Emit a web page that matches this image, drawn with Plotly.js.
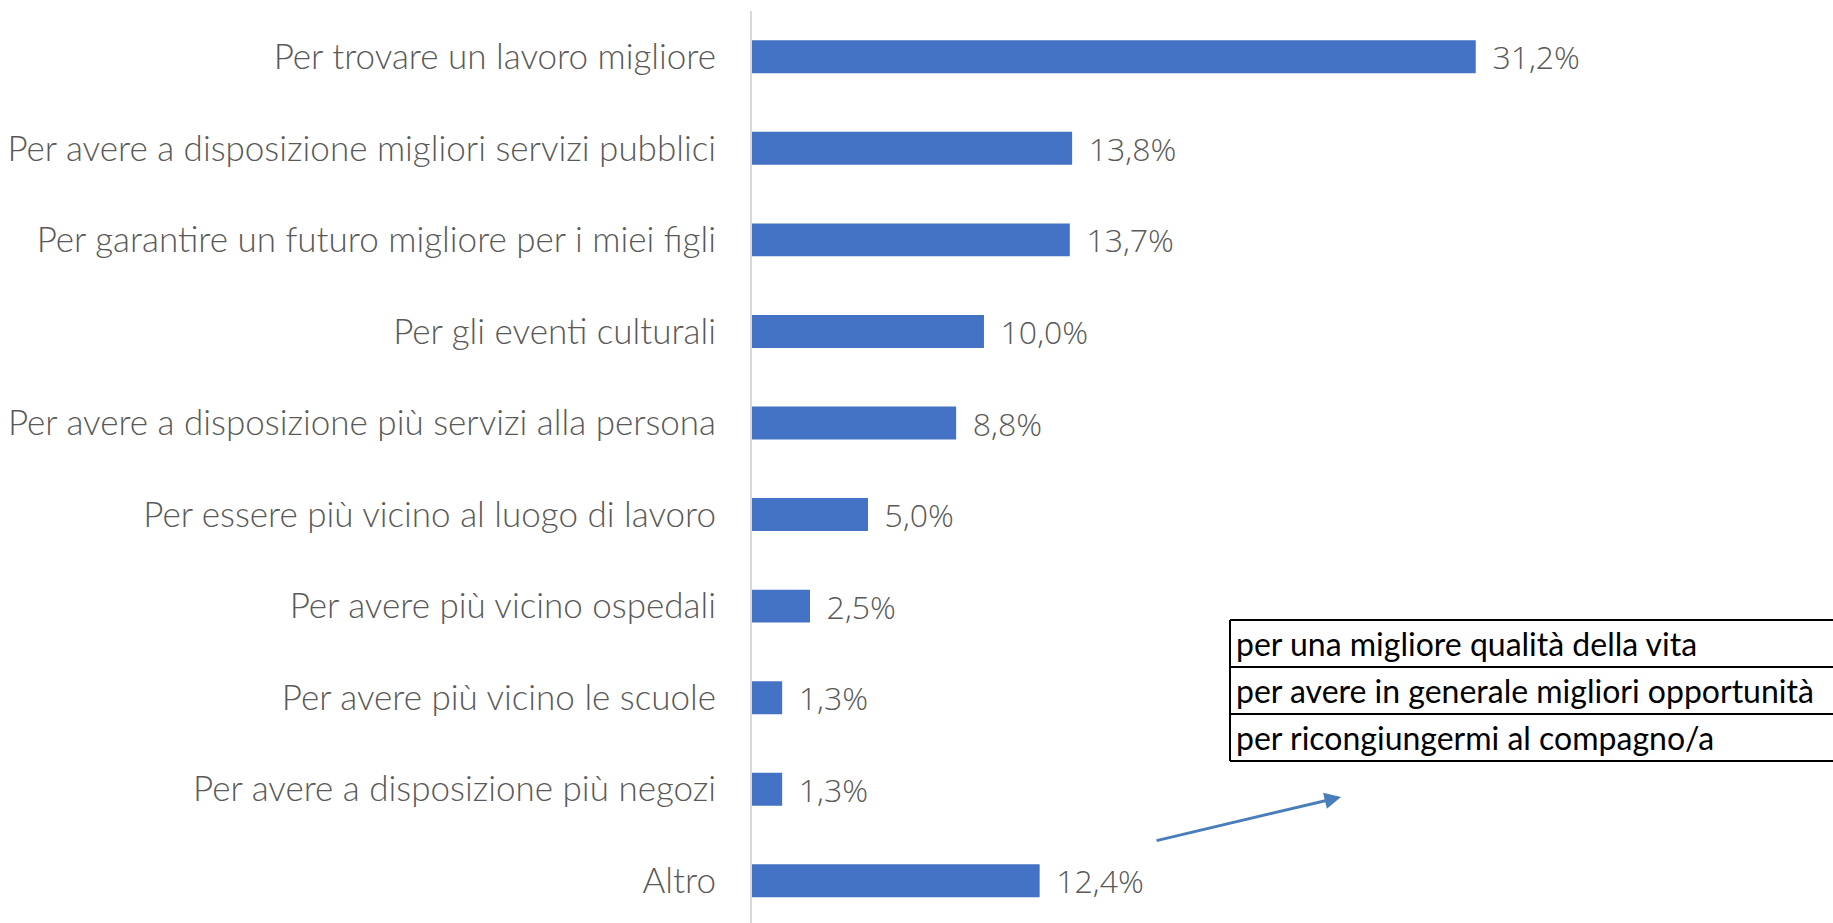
<!DOCTYPE html>
<html>
<head>
<meta charset="utf-8">
<script src="https://cdn.plot.ly/plotly-3.0.1.min.js"></script>
<style>html,body{margin:0;padding:0;background:#fff;}#chart{width:1833px;height:923px;}</style>
</head>
<body>
<div id="chart"></div>
<script>
const categories = [
  "Per trovare un lavoro migliore",
  "Per avere a disposizione migliori servizi pubblici",
  "Per garantire un futuro migliore per i miei figli",
  "Per gli eventi culturali",
  "Per avere a disposizione più servizi alla persona",
  "Per essere più vicino al luogo di lavoro",
  "Per avere più vicino ospedali",
  "Per avere più vicino le scuole",
  "Per avere a disposizione più negozi",
  "Altro"
];
const values = [31.2, 13.8, 13.7, 10.0, 8.8, 5.0, 2.5, 1.3, 1.3, 12.4];
const altroDetails = [
  "per una migliore qualità della vita",
  "per avere in generale migliori opportunità",
  "per ricongiungermi al compagno/a"
];

const labelFont = {family: "Lato, 'Open Sans', sans-serif", size: 35, color: "#595959", weight: 300};
const valueFont = {family: "'Open Sans', Lato, sans-serif", size: 32, color: "#595959", weight: 300};
const valueText = values.map(v => " \u2009" + v.toFixed(1).replace(".", ",") + "%");

const trace = {
  type: "bar",
  orientation: "h",
  x: values,
  y: categories,
  marker: {color: "#4472C4"},
  text: valueText,
  textposition: "outside",
  constraintext: "none",
  textfont: valueFont,
  cliponaxis: false,
  hoverinfo: "none",
  width: 0.36
};

// Table box (paper coords) and detail text
const rowLines = [0.3322, 0.2807, 0.2292, 0.1776];
const boxLeft = 0.4422;
const shapes = rowLines.map(yy => ({
  type: "line", xref: "paper", yref: "paper",
  x0: boxLeft, x1: 1.0, y0: yy, y1: yy,
  line: {color: "#000", width: 2}
}));
shapes.push({
  type: "line", xref: "paper", yref: "paper",
  x0: boxLeft, x1: boxLeft, y0: rowLines[0], y1: rowLines[3],
  line: {color: "#000", width: 2}
});

const annotations = altroDetails.map((t, i) => ({
  xref: "paper", yref: "paper",
  x: boxLeft + 0.004, y: (rowLines[i] + rowLines[i + 1]) / 2,
  xanchor: "left", yanchor: "middle",
  text: t, showarrow: false,
  font: {family: "Lato, 'Open Sans', sans-serif", size: 32, color: "#000"}
}));
annotations.push({
  xref: "paper", yref: "paper",
  x: 0.5449, y: 0.1382,
  ax: -186, ay: 44,
  text: "", showarrow: true,
  arrowhead: 2, arrowsize: 1.1, arrowwidth: 3,
  arrowcolor: "#4A7EBB"
});

const layout = {
  width: 1833, height: 923,
  margin: {l: 752, r: 0, t: 11, b: 0, pad: 0},
  paper_bgcolor: "#fff", plot_bgcolor: "#fff",
  showlegend: false,
  xaxis: {
    range: [0, 46.6], showgrid: false, zeroline: false,
    showticklabels: false, ticks: "", showline: false, fixedrange: true
  },
  yaxis: {
    type: "category",
    range: [9.461, -0.5],
    showgrid: false, zeroline: false,
    showline: true, linecolor: "#D9D9D9", linewidth: 2,
    ticks: "outside", ticklen: 27, tickcolor: "rgba(0,0,0,0)",
    tickfont: labelFont, automargin: false, fixedrange: true
  },
  shapes: shapes,
  annotations: annotations
};

Plotly.newPlot("chart", [trace], layout, {staticPlot: true, displayModeBar: false});
</script>
</body>
</html>
